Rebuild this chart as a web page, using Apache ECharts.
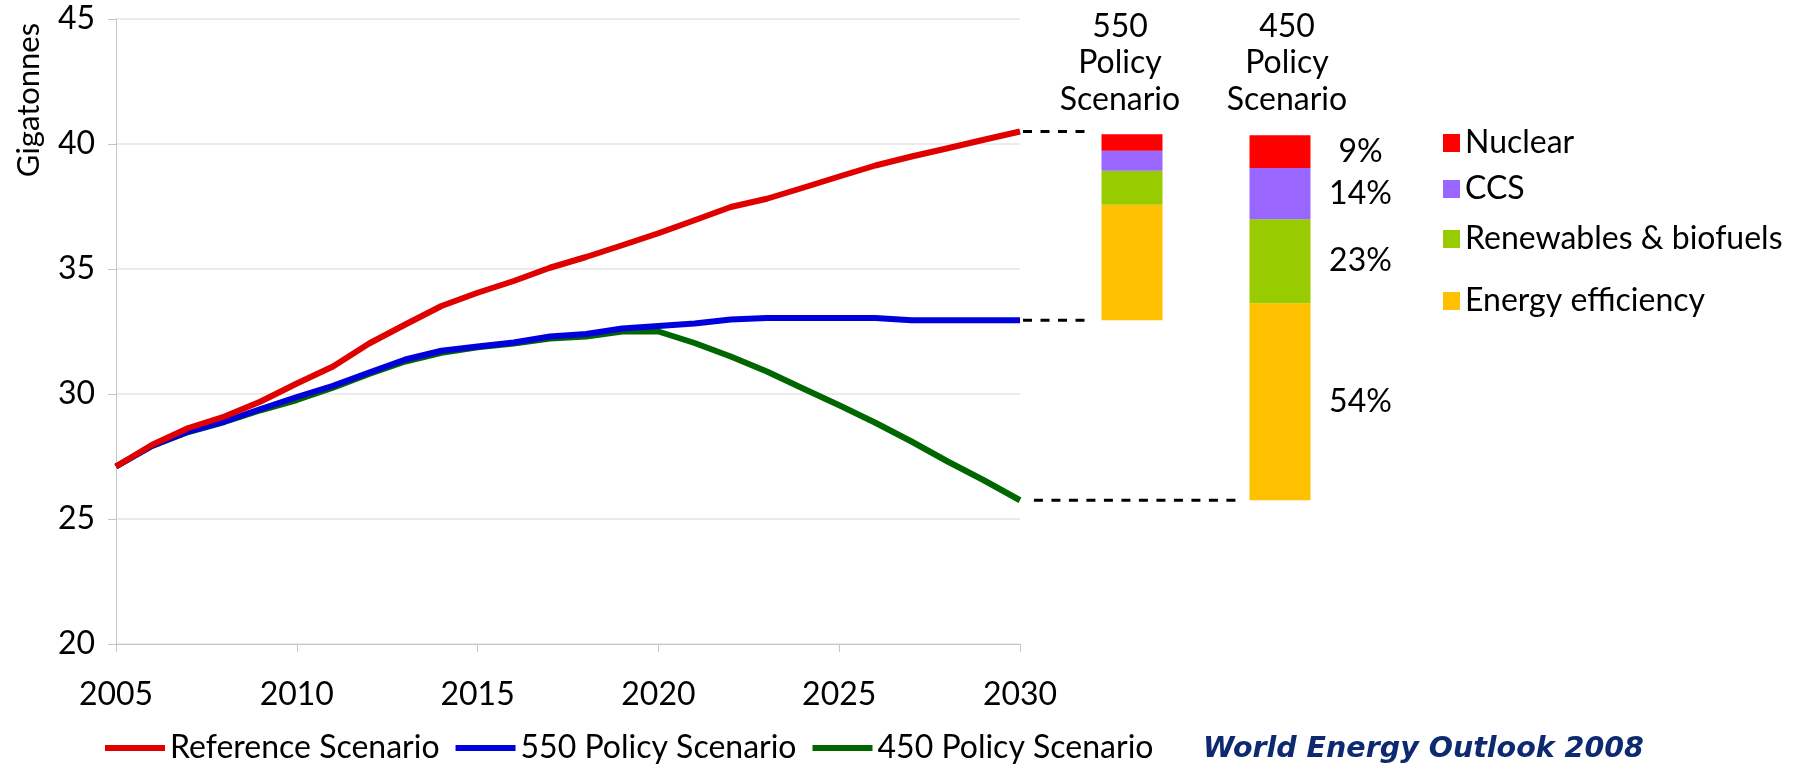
<!DOCTYPE html>
<html>
<head>
<meta charset="utf-8">
<title>Energy-related CO2 emissions and abatement by scenario</title>
<script src="https://cdn.jsdelivr.net/npm/echarts@6/dist/echarts.min.js"></script>
<style>
  html, body { margin: 0; padding: 0; background: #ffffff; }
  #chart { width: 1806px; height: 769px; }
</style>
</head>
<body>
<div id="chart"></div>
<script>
// ---- data -----------------------------------------------------------------
const years = ['2005','2006','2007','2008','2009','2010','2011','2012','2013','2014',
               '2015','2016','2017','2018','2019','2020','2021','2022','2023','2024',
               '2025','2026','2027','2028','2029','2030'];

// Energy-related CO2 emissions, Gt
const referenceScenario = [27.1, 27.97, 28.64, 29.1, 29.7, 30.42, 31.1, 32.02, 32.78, 33.52,
                           34.05, 34.52, 35.05, 35.48, 35.95, 36.43, 36.95, 37.48, 37.81, 38.25,
                           38.7, 39.14, 39.5, 39.83, 40.17, 40.5];
const policy550 = [27.1, 27.93, 28.5, 28.9, 29.4, 29.88, 30.33, 30.86, 31.38, 31.73,
                   31.9, 32.06, 32.3, 32.4, 32.62, 32.72, 32.82, 32.98, 33.04, 33.04,
                   33.04, 33.04, 32.95, 32.95, 32.95, 32.95];
const policy450 = [27.1, 27.92, 28.48, 28.88, 29.35, 29.76, 30.25, 30.8, 31.3, 31.65,
                   31.87, 32.02, 32.22, 32.3, 32.5, 32.5, 32.04, 31.5, 30.9, 30.22,
                   29.55, 28.85, 28.1, 27.3, 26.55, 25.75];

// Abatement in 2030 by measure (bottom to top of each stacked bar)
const measures = ['Energy efficiency', 'Renewables & biofuels', 'CCS', 'Nuclear'];
const measureColors = ['#FFC000', '#99CC00', '#9966FF', '#FF0000'];
const abatement550 = [4.62, 1.36, 0.8, 0.66];          // Gt
const abatement450Total = 14.6;                         // Gt
const abatement450Share = [54, 23, 14, 9];              // %

const scenarioHeaders = ['550\nPolicy\nScenario', '450\nPolicy\nScenario'];
const lineNames = ['Reference Scenario', '550 Policy Scenario', '450 Policy Scenario'];
const lineColors = ['#E00000', '#0000DD', '#006600'];
const sourceNote = 'World Energy Outlook 2008';

// ---- derived values --------------------------------------------------------
const last = arr => arr[arr.length - 1];
const abatement450 = abatement450Share.map(s => abatement450Total * s / 100);
const barBase = [last(policy550), last(policy450)];

// ---- styling ---------------------------------------------------------------
const FONT = 'Lato, "Noto Sans", sans-serif';
const FS = 32;
const Y_MIN = 20, Y_MAX = 45;
const PLOT = { left: 116, top: 19, width: 904, height: 625 };
// connector dashes, as fractions of the connector strip
const CONNECT_NEAR = [0.0125, 0.29];
const CONNECT_FAR = [0.058, 0.908];

const hiddenValueY = (gridIndex) => ({
  type: 'value', gridIndex, min: Y_MIN, max: Y_MAX, show: false
});

const lineSeries = [referenceScenario, policy550, policy450].map((d, i) => ({
  name: lineNames[i],
  type: 'line',
  xAxisIndex: 0, yAxisIndex: 0,
  data: d,
  showSymbol: false,
  symbol: 'none',
  silent: true,
  z: 5 - i,
  lineStyle: { color: lineColors[i], width: 6, join: 'round', cap: 'butt' },
  itemStyle: { color: lineColors[i] }
}));

const baseSeries = {
  name: 'base',
  type: 'bar',
  stack: 'abatement',
  xAxisIndex: 1, yAxisIndex: 1,
  barWidth: 61,
  silent: true,
  itemStyle: { color: 'transparent' },
  data: barBase
};

const measureSeries = measures.map((m, i) => ({
  name: m,
  type: 'bar',
  stack: 'abatement',
  xAxisIndex: 1, yAxisIndex: 1,
  barWidth: 61,
  silent: true,
  itemStyle: { color: measureColors[i] },
  data: [
    { value: abatement550[i] },
    {
      value: abatement450[i],
      label: {
        show: true,
        formatter: abatement450Share[i] + '%',
        position: [111, '50%'],
        align: 'center',
        verticalAlign: 'middle',
        fontFamily: FONT,
        fontSize: FS,
        color: '#000'
      }
    }
  ]
}));

const connectorSeries = [
  [CONNECT_NEAR, last(referenceScenario)],
  [CONNECT_NEAR, last(policy550)],
  [CONNECT_FAR, last(policy450)]
].map(([span, y]) => ({
  type: 'line',
  xAxisIndex: 2, yAxisIndex: 2,
  data: [[span[0], y], [span[1], y]],
  showSymbol: false,
  symbol: 'none',
  silent: true,
  lineStyle: { color: '#000', width: 3, type: [9, 8.5] }
}));

const measureLegendTops = [125, 171, 221, 283];
const measureLegends = measures.slice().reverse().map((m, i) => ({
  data: [m],
  left: 1443,
  top: measureLegendTops[i],
  padding: 0,
  icon: 'rect',
  itemWidth: 17,
  itemHeight: 18,
  selectedMode: false,
  textStyle: { fontFamily: FONT, fontSize: FS, color: '#000', lineHeight: 36 }
}));

const option = {
  backgroundColor: '#ffffff',
  animation: false,
  textStyle: { fontFamily: FONT },
  title: [
    ...scenarioHeaders.map((t, i) => ({
      text: t,
      left: [1120, 1287][i],
      top: 8,
      padding: 0,
      textAlign: 'center',
      textStyle: { fontFamily: FONT, fontSize: FS, fontWeight: 'normal', color: '#000', lineHeight: 36.5 }
    })),
    {
      text: sourceNote,
      left: 1203,
      top: 731,
      padding: 0,
      textStyle: { fontFamily: '"DejaVu Sans", sans-serif', fontSize: 28.5, fontWeight: 'bold', fontStyle: 'italic', color: '#0D2A70', lineHeight: 38 }
    }
  ],
  legend: [
    {
      data: lineNames,
      left: 105,
      top: 730,
      padding: 0,
      icon: 'rect',
      itemWidth: 60,
      itemHeight: 6,
      itemGap: 16,
      selectedMode: false,
      textStyle: { fontFamily: FONT, fontSize: FS, color: '#000', lineHeight: 36 }
    },
    ...measureLegends
  ],
  grid: [
    { left: PLOT.left, top: PLOT.top, width: PLOT.width, height: PLOT.height, containLabel: false },
    { left: 1058, top: PLOT.top, width: 296, height: PLOT.height, containLabel: false },
    { left: PLOT.left + PLOT.width, top: PLOT.top, width: 240, height: PLOT.height, containLabel: false }
  ],
  xAxis: [
    {
      type: 'category',
      gridIndex: 0,
      data: years,
      boundaryGap: false,
      axisLine: { show: true, lineStyle: { color: '#C6C6C6', width: 1 } },
      axisTick: { show: true, interval: 4, length: 8, inside: false, lineStyle: { color: '#C6C6C6' } },
      axisLabel: { interval: 4, margin: 35, fontFamily: FONT, fontSize: FS, color: '#000' },
      splitLine: { show: false }
    },
    { type: 'category', gridIndex: 1, data: ['550', '450'], show: false },
    { type: 'value', gridIndex: 2, min: 0, max: 1, show: false }
  ],
  yAxis: [
    {
      type: 'value',
      gridIndex: 0,
      min: Y_MIN, max: Y_MAX, interval: 5,
      axisLine: { show: true, lineStyle: { color: '#C6C6C6', width: 1 } },
      axisTick: { show: true, length: 8, inside: false, lineStyle: { color: '#C6C6C6' } },
      axisLabel: { margin: 21, fontFamily: FONT, fontSize: FS, color: '#000' },
      splitLine: { show: true, lineStyle: { color: '#E4E4E4', width: 1.5 } }
    },
    hiddenValueY(1),
    hiddenValueY(2)
  ],
  graphic: [
    {
      type: 'text',
      x: 29,
      y: 100,
      rotation: Math.PI / 2,
      style: {
        text: 'Gigatonnes',
        fontFamily: FONT,
        fontSize: 31,
        fill: '#000',
        textAlign: 'center',
        textVerticalAlign: 'middle'
      }
    }
  ],
  series: [...lineSeries, baseSeries, ...measureSeries, ...connectorSeries]
};

const chart = echarts.init(document.getElementById('chart'), null, { renderer: 'canvas' });
chart.setOption(option);
</script>
</body>
</html>
